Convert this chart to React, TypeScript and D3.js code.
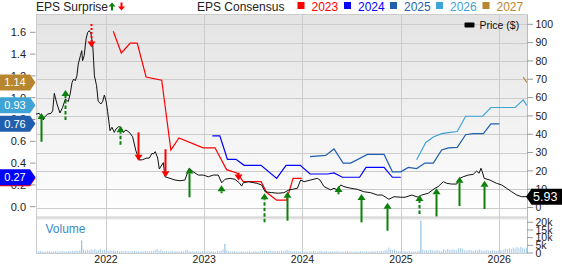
import React from "react";
import * as d3 from "d3";

const W = 562;
const H = 264;

// ---- data ----
const priceSeries: [string, number][] = [
  ["2021-04-16", 51.0], ["2021-04-28", 51.4], ["2021-05-13", 47.8], ["2021-05-17", 49.2], ["2021-05-29", 51.0],
  ["2021-06-11", 51.4], ["2021-06-17", 52.8], ["2021-06-23", 62.3], ["2021-07-03", 56.5], ["2021-07-14", 51.6],
  ["2021-07-24", 54.7], ["2021-08-03", 59.2], ["2021-08-14", 57.8], ["2021-08-21", 62.0], ["2021-08-28", 68.3],
  ["2021-09-03", 70.1], ["2021-09-09", 69.2], ["2021-09-15", 71.9], ["2021-09-20", 78.3], ["2021-09-28", 82.9],
  ["2021-10-03", 85.6], ["2021-10-06", 80.1], ["2021-10-12", 82.9], ["2021-10-19", 92.0], ["2021-10-25", 95.6],
  ["2021-10-31", 96.5], ["2021-11-06", 95.1], ["2021-11-13", 88.3], ["2021-11-16", 80.1], ["2021-11-19", 71.9],
  ["2021-11-27", 66.5], ["2021-12-03", 58.0], ["2021-12-13", 56.5], ["2021-12-20", 58.0], ["2021-12-26", 61.4],
  ["2022-01-01", 58.3], ["2022-01-07", 52.5], ["2022-01-16", 41.9], ["2022-01-23", 43.8], ["2022-02-01", 41.0],
  ["2022-02-07", 42.8], ["2022-02-17", 44.1], ["2022-02-26", 43.8], ["2022-03-06", 41.0], ["2022-03-16", 42.3],
  ["2022-03-29", 41.0], ["2022-04-10", 38.6], ["2022-04-22", 31.0], ["2022-05-05", 25.9], ["2022-05-17", 26.1],
  ["2022-05-30", 26.9], ["2022-06-11", 27.0], ["2022-06-21", 29.6], ["2022-06-26", 29.2], ["2022-07-03", 30.5],
  ["2022-07-12", 27.0], ["2022-07-18", 21.0], ["2022-08-02", 24.5], ["2022-08-08", 16.8], ["2022-08-27", 15.9],
  ["2022-09-14", 15.0], ["2022-10-03", 14.6], ["2022-10-21", 15.0], ["2022-11-06", 21.4], ["2022-11-21", 19.5],
  ["2022-12-10", 17.7], ["2022-12-28", 17.7], ["2023-01-16", 16.8], ["2023-02-04", 17.7], ["2023-02-22", 17.7],
  ["2023-03-07", 13.5], ["2023-03-19", 15.4], ["2023-04-07", 15.9], ["2023-04-25", 15.4], ["2023-05-11", 13.5],
  ["2023-05-20", 11.7], ["2023-05-26", 13.5], ["2023-06-14", 14.1], ["2023-07-15", 13.2], ["2023-08-02", 12.3],
  ["2023-08-15", 8.6], ["2023-09-09", 8.1], ["2023-10-03", 7.8], ["2023-10-24", 8.1], ["2023-11-12", 9.6],
  ["2023-11-24", 9.9], ["2023-12-13", 10.5], ["2023-12-25", 15.0], ["2024-01-07", 14.1], ["2024-01-31", 15.0],
  ["2024-02-25", 15.9], ["2024-03-06", 15.0], ["2024-03-21", 11.4], ["2024-04-15", 9.6], ["2024-04-27", 10.5],
  ["2024-05-09", 9.6], ["2024-05-22", 12.3], ["2024-06-03", 11.4], ["2024-06-28", 10.5], ["2024-07-23", 9.9],
  ["2024-08-16", 8.6], ["2024-09-10", 8.1], ["2024-10-05", 6.8], ["2024-10-23", 6.8], ["2024-11-05", 5.6],
  ["2024-11-17", 4.5], ["2024-12-06", 5.9], ["2024-12-31", 5.6], ["2025-01-16", 5.6], ["2025-02-10", 6.8],
  ["2025-03-06", 5.6], ["2025-03-19", 6.8], ["2025-04-12", 7.8], ["2025-05-07", 10.5], ["2025-05-19", 11.4],
  ["2025-06-07", 14.1], ["2025-06-20", 13.2], ["2025-07-08", 12.8], ["2025-07-27", 12.8], ["2025-08-08", 15.9],
  ["2025-08-20", 16.8], ["2025-09-08", 17.7], ["2025-09-26", 18.1], ["2025-10-09", 19.9], ["2025-10-18", 18.7],
  ["2025-10-25", 21.4], ["2025-10-30", 19.5], ["2025-11-06", 15.9], ["2025-11-27", 15.0], ["2025-12-22", 13.2],
  ["2026-01-10", 12.3], ["2026-01-28", 10.5], ["2026-02-16", 8.6], ["2026-03-07", 6.8], ["2026-03-25", 5.9],
  ["2026-04-13", 5.93],
];

const cons2023: [string, number][] = [
  ["2022-01-28", 1.61], ["2022-02-27", 1.41], ["2022-04-01", 1.5], ["2022-04-27", 1.5], ["2022-05-30", 1.19],
  ["2022-07-27", 1.16], ["2022-08-30", 0.52], ["2022-09-29", 0.63], ["2022-12-28", 0.54], ["2023-02-10", 0.54],
  ["2023-03-25", 0.34], ["2023-05-02", 0.31], ["2023-05-26", 0.23], ["2023-07-31", 0.23], ["2023-08-21", 0.13],
  ["2023-09-27", 0.06], ["2023-11-03", 0.06], ["2023-11-27", 0.26], ["2023-12-29", 0.26],
];
const cons2024: [string, number][] = [
  ["2023-01-31", 0.65], ["2023-02-28", 0.65], ["2023-03-28", 0.435], ["2023-04-29", 0.435], ["2023-05-29", 0.38],
  ["2023-07-31", 0.38], ["2023-09-27", 0.26], ["2023-11-01", 0.38], ["2023-12-24", 0.38], ["2024-01-29", 0.3],
  ["2024-04-03", 0.3], ["2024-04-27", 0.31], ["2024-05-28", 0.27], ["2024-07-31", 0.27], ["2024-08-24", 0.36],
  ["2024-10-30", 0.36], ["2024-11-30", 0.27], ["2024-12-31", 0.27],
];
const cons2025: [string, number][] = [
  ["2024-01-29", 0.46], ["2024-03-27", 0.47], ["2024-04-27", 0.53], ["2024-05-31", 0.4], ["2024-06-28", 0.4],
  ["2024-08-29", 0.48], ["2024-10-30", 0.48], ["2024-11-30", 0.32], ["2024-12-31", 0.32], ["2025-01-28", 0.36],
  ["2025-02-28", 0.35], ["2025-03-31", 0.4], ["2025-05-01", 0.4], ["2025-06-01", 0.52], ["2025-06-26", 0.54],
  ["2025-07-29", 0.545], ["2025-08-29", 0.66], ["2025-09-26", 0.67], ["2025-11-03", 0.67], ["2025-12-01", 0.76],
  ["2026-01-01", 0.76],
];
const cons2026: [string, number][] = [
  ["2025-02-28", 0.43], ["2025-04-03", 0.59], ["2025-05-01", 0.64], ["2025-06-01", 0.67], ["2025-06-26", 0.68],
  ["2025-07-29", 0.69], ["2025-08-29", 0.83], ["2025-10-31", 0.83], ["2025-12-01", 0.91], ["2026-03-01", 0.91],
  ["2026-03-31", 0.98], ["2026-04-13", 0.93],
];
const cons2027: [string, number][] = [
  ["2026-03-31", 1.19], ["2026-04-13", 1.14],
];

const consYears = ["2023", "2024", "2025", "2026", "2027"];
const consColors = ["#ff0000", "#0000ff", "#1f5fae", "#3fa3d6", "#b8862e"];
const consSeries = [cons2023, cons2024, cons2025, cons2026, cons2027];

// EPS surprise arrows: date, head price, tail price, beat/miss, line style
const arrowDates = [
  "2021-05-05", "2021-08-01", "2021-11-06", "2022-02-22", "2022-05-01", "2022-08-07", "2022-11-05", "2023-03-04",
  "2023-05-07", "2023-08-11", "2023-11-04", "2024-05-12", "2024-08-07", "2024-11-10", "2025-03-08", "2025-05-11",
  "2025-08-05", "2025-11-04",
];
const arrowHead = [51.6, 64.1, 87.4, 44.3, 25.5, 16.5, 21.9, 12.1, 14.7, 7.8, 8.6, 11.7, 7.4, 2.6, 6.8, 10.5, 16.8, 14.6];
const arrowTail = [35.9, 47.8, 100.2, 34.3, 41.0, 31.8, 5.6, 7.8, 19.0, -8.1, -7.2, 7.2, -8.1, -12.7, -3.5, -4.9, 0.8, -0.8];
const arrowBeat = [true, true, false, true, false, false, true, true, false, true, true, true, true, true, true, true, true, true];
const arrowStyle = ["solid", "dashed", "dotted", "dashed", "solid", "solid", "solid", "solid", "solid", "dashed",
  "solid", "solid", "solid", "solid", "dashed", "solid", "solid", "solid"];

// weekly volume (thousands), starting 2021-04-16
const volumeStart = "2021-04-16";
const volumeK = [
  1.2, 1.0, 1.4, 1.1, 0.9, 1.0, 1.3, 1.1, 0.8, 1.0, 1.2, 0.9, 1.1, 1.0, 1.3, 0.9, 1.0, 1.2, 1.1, 1.4,
  1.2, 1.6, 1.3, 1.8, 8.2, 2.5, 1.7, 2.1, 1.5, 2.4, 1.9, 2.8, 1.6, 2.2, 2.6, 1.8, 2.0, 2.3, 1.5, 1.9,
  1.4, 1.8, 1.2, 1.5, 1.0, 1.3, 1.1, 1.4, 1.0, 1.2, 0.9, 1.1, 1.3, 1.0, 1.2, 0.9, 1.1, 1.0, 1.3, 1.1,
  1.0, 1.2, 1.4, 2.0, 2.6, 1.5, 2.2, 1.3, 1.0, 1.2, 0.9, 1.1, 1.4, 1.0, 1.2, 1.1, 0.9, 1.3, 1.0, 1.8,
  2.0, 1.2, 1.0, 1.1, 0.9, 1.2, 1.0, 0.8, 1.1, 0.9, 1.0, 1.2, 0.9, 1.1, 1.0, 0.8, 1.3, 1.1, 1.6, 2.4,
  6.0, 1.8, 1.2, 1.0, 0.9, 1.1, 0.8, 1.0, 0.9, 1.2, 0.8, 1.0, 0.9, 1.1, 0.8, 1.0, 1.2, 0.9, 1.0, 1.1,
  1.6, 1.3, 1.5, 1.1, 1.8, 1.4, 1.2, 1.0, 1.3, 1.1, 1.5, 1.2, 1.6, 1.9, 1.4, 1.2, 1.0, 1.3, 1.1, 0.9,
  1.0, 1.2, 0.9, 1.1, 0.8, 1.0, 0.9, 1.3, 1.0, 0.8, 1.1, 1.4, 0.9, 1.0, 1.2, 0.8, 1.0, 0.9, 1.1, 1.0,
  1.2, 0.9, 1.0, 0.8, 1.1, 1.3, 0.9, 1.0, 0.8, 1.1, 1.0, 0.9, 1.2, 1.0, 0.8, 1.1, 0.9, 1.0, 1.2, 1.1,
  1.0, 1.3, 1.1, 1.5, 1.2, 1.8, 2.0, 3.6, 2.4, 1.9, 2.2, 1.6, 1.4, 1.2, 1.0, 1.3, 1.1, 0.9, 1.2, 1.0,
  0.9, 1.1, 1.0, 1.4, 21.0, 2.2, 1.6, 1.9, 1.4, 2.3, 1.8, 1.5, 1.7, 2.0, 1.4, 1.2, 2.4, 1.8, 2.6, 2.2,
  1.9, 2.4, 2.1, 1.8, 3.0, 3.2, 2.8, 1.9, 1.5, 1.8, 2.1, 1.7, 1.4, 1.9, 1.6, 2.3, 1.8, 1.5, 1.7, 1.9,
  1.6, 1.4, 1.8, 1.5, 1.3, 1.7, 2.0, 1.6, 2.2, 2.8, 2.4, 3.2, 2.6, 3.5, 2.9, 3.9, 3.1, 4.2, 3.4, 2.8, 3.6,
];

const priceTicks = [0, 10, 20, 30, 40, 50, 60, 70, 80, 90, 100];
const epsTicks = [0, 0.2, 0.4, 0.6, 0.8, 1.0, 1.2, 1.4, 1.6];
const volumeTicks = [0, 5, 10, 15, 20];
const lastPrice = 5.93;

const FONT = "'Liberation Sans', Arial, sans-serif";

export default function App() {
  const parse = d3.timeParse("%Y-%m-%d");
  const pd = (s: string) => parse(s) as Date;

  const left = 36, right = 527, top = 14.5, mainBottom = 217, volTop = 219.5, volBottom = 253.5;

  const x = d3.scaleTime().domain([pd("2021-04-16"), pd("2026-04-14")]).range([left, right]);
  const yP = d3.scaleLinear().domain([0, 100]).range([207.5, 24.3]);
  const yE = d3.scaleLinear().domain([0, 1.6]).range([206.7, 32.3]);
  const yV = d3.scaleLinear().domain([0, 20]).range([253, 222.3]);

  const priceLine = d3.line<[string, number]>().x(d => x(pd(d[0]))).y(d => yP(d[1]));
  const epsLine = d3.line<[string, number]>().x(d => x(pd(d[0]))).y(d => yE(d[1]));

  const years = x.ticks(d3.timeYear.every(1)!).filter(d => x(d) > left + 5 && x(d) < right - 5);
  const vStart = pd(volumeStart);

  const green = "#0b800b";
  const red = "#ff0000";

  const badge = (cy: number, h = 16) =>
    `M0,${cy - h / 2} L30,${cy - h / 2} L35.5,${cy} L30,${cy + h / 2} L0,${cy + h / 2} Z`;

  return (
    <svg width={W} height={H} style={{ position: "absolute", left: 0, top: 0, fontFamily: FONT }}>
      <defs>
        <linearGradient id="bg" x1="0" y1="0" x2="0" y2="1">
          <stop offset="0" stopColor="#e3e3e3" />
          <stop offset="1" stopColor="#ffffff" />
        </linearGradient>
        <clipPath id="mainClip">
          <rect x={left} y={top} width={right - left} height={mainBottom - top} />
        </clipPath>
      </defs>
      <rect x={0} y={0} width={W} height={H} fill="#fff" />
      <rect x={left} y={top} width={right - left} height={mainBottom - top} fill="url(#bg)" />
      <rect x={left} y={mainBottom} width={right - left} height={volTop - mainBottom} fill="#e4e4e4" />

      {/* horizontal gridlines */}
      {priceTicks.map(t => (
        <line key={"g" + t} x1={left} x2={right} y1={Math.round(yP(t)) + 0.5} y2={Math.round(yP(t)) + 0.5}
          stroke="#cccccc" strokeWidth={1} />
      ))}
      <line x1={left} x2={right} y1={top} y2={top} stroke="#cccccc" />
      <line x1={left} x2={right} y1={mainBottom} y2={mainBottom} stroke="#cccccc" />
      <line x1={left} x2={right} y1={volBottom} y2={volBottom} stroke="#cccccc" />
      {/* vertical gridlines */}
      {years.map(d => (
        <line key={"v" + d.getFullYear()} x1={Math.round(x(d)) + 0.5} x2={Math.round(x(d)) + 0.5} y1={top} y2={volBottom}
          stroke="#cccccc" />
      ))}
      <line x1={left + 0.5} x2={left + 0.5} y1={top} y2={volBottom} stroke="#cccccc" />
      <line x1={right + 0.5} x2={right + 0.5} y1={top} y2={volBottom} stroke="#bbbbbb" />

      {/* volume */}
      {volumeK.map((v, i) => {
        const xx = x(d3.timeDay.offset(vStart, 7 * i));
        return <rect key={"vb" + i} x={xx} y={yV(v)} width={1} height={yV(0) - yV(v)}
          fill={v > 5 ? "#7fb2df" : "#a9cbea"} />;
      })}
      <text x={45.5} y={233} fontSize={12} fill="#3a8ac8">Volume</text>

      {/* consensus lines */}
      <g clipPath="url(#mainClip)">
        {consSeries.map((s, i) => (
          <path key={"c" + i} d={epsLine(s) || ""} fill="none" stroke={consColors[i]} strokeWidth={1.2} />
        ))}
        <path d={priceLine(priceSeries) || ""} fill="none" stroke="#111" strokeWidth={1} />
      </g>

      {/* surprise arrows */}
      {arrowDates.map((ds, i) => {
        const ax = Math.round(x(pd(ds))) + 0.5;
        const hy = yP(arrowHead[i]);
        const ty = yP(arrowTail[i]);
        const col = arrowBeat[i] ? green : red;
        const up = arrowBeat[i];
        const baseY = up ? hy + 6 : hy - 6;
        const dash = arrowStyle[i] === "dashed" ? "3.5,2" : arrowStyle[i] === "dotted" ? "2,2" : undefined;
        return (
          <g key={"a" + i}>
            <line x1={ax} x2={ax} y1={ty} y2={baseY} stroke={col} strokeWidth={2} strokeDasharray={dash} />
            <path d={`M${ax},${hy} L${ax - 4},${baseY} L${ax + 4},${baseY} Z`} fill={col} />
          </g>
        );
      })}

      {/* left axis */}
      {epsTicks.map(t => (
        <g key={"e" + t}>
          <line x1={30} x2={35.5} y1={yE(t)} y2={yE(t)} stroke="#999" />
          <text x={26} y={yE(t)} dy="0.35em" fontSize={11} textAnchor="end" fill="#222">{t.toFixed(1)}</text>
        </g>
      ))}

      {/* right axis */}
      {priceTicks.map(t => (
        <g key={"p" + t}>
          <line x1={right} x2={533} y1={yP(t)} y2={yP(t)} stroke="#999" />
          <text x={535.5} y={yP(t)} dy="0.35em" fontSize={10.5} fill="#222">{t}</text>
        </g>
      ))}
      {volumeTicks.map(t => (
        <g key={"vt" + t}>
          <line x1={right} x2={533} y1={yV(t * 1)} y2={yV(t * 1)} stroke="#999" />
          <text x={535.5} y={yV(t)} dy="0.35em" fontSize={10.5} fill="#222">{t === 0 ? "0" : t + "k"}</text>
        </g>
      ))}

      {/* x axis labels */}
      {years.map(d => (
        <text key={"xl" + d.getFullYear()} x={x(d)} y={263} fontSize={10.5} textAnchor="middle" fill="#222">
          {d.getFullYear()}
        </text>
      ))}

      {/* consensus badges */}
      {consSeries.map((s, i) => {
        const v = s[s.length - 1][1];
        const cy = yE(v);
        return (
          <g key={"b" + i}>
            <path d={badge(cy)} fill={consColors[i]} />
            <text x={15} y={cy} dy="0.36em" fontSize={11} textAnchor="middle" fill="#fff">{v.toFixed(2)}</text>
          </g>
        );
      })}

      {/* price badge */}
      {(() => {
        const cy = yP(lastPrice);
        return (
          <g>
            <path d={`M526,${cy} L531.5,${cy - 8} L562,${cy - 8} L562,${cy + 8} L531.5,${cy + 8} Z`} fill="#000" />
            <text x={533} y={cy} dy="0.36em" fontSize={12.5} fill="#fff">{lastPrice.toFixed(2)}</text>
          </g>
        );
      })()}

      {/* legends */}
      <text x={36} y={10.5} fontSize={12} fill="#222">EPS Surprise</text>
      <g>
        <line x1={112} x2={112} y1={5} y2={10.5} stroke={green} strokeWidth={2} />
        <path d="M112,2.5 L108.5,6.5 L115.5,6.5 Z" fill={green} />
        <line x1={121.5} x2={121.5} y1={2.5} y2={7} stroke={red} strokeWidth={2} />
        <path d="M121.5,10.5 L118,6.5 L125,6.5 Z" fill={red} />
      </g>
      <text x={197} y={10.5} fontSize={12} fill="#222">EPS Consensus</text>
      {consYears.map((yr, i) => {
        const sx = [297.5, 344, 390, 436, 482.5][i];
        return (
          <g key={"l" + yr}>
            <rect x={sx} y={2} width={7} height={7} fill={consColors[i]} />
            <text x={sx + 14} y={10.5} fontSize={12} fill={consColors[i]}>{yr}</text>
          </g>
        );
      })}
      <rect x={464.5} y={22.5} width={10} height={5} rx={1} fill="#000" />
      <text x={479.5} y={29} fontSize={10.5} fill="#111">Price ($)</text>
    </svg>
  );
}
